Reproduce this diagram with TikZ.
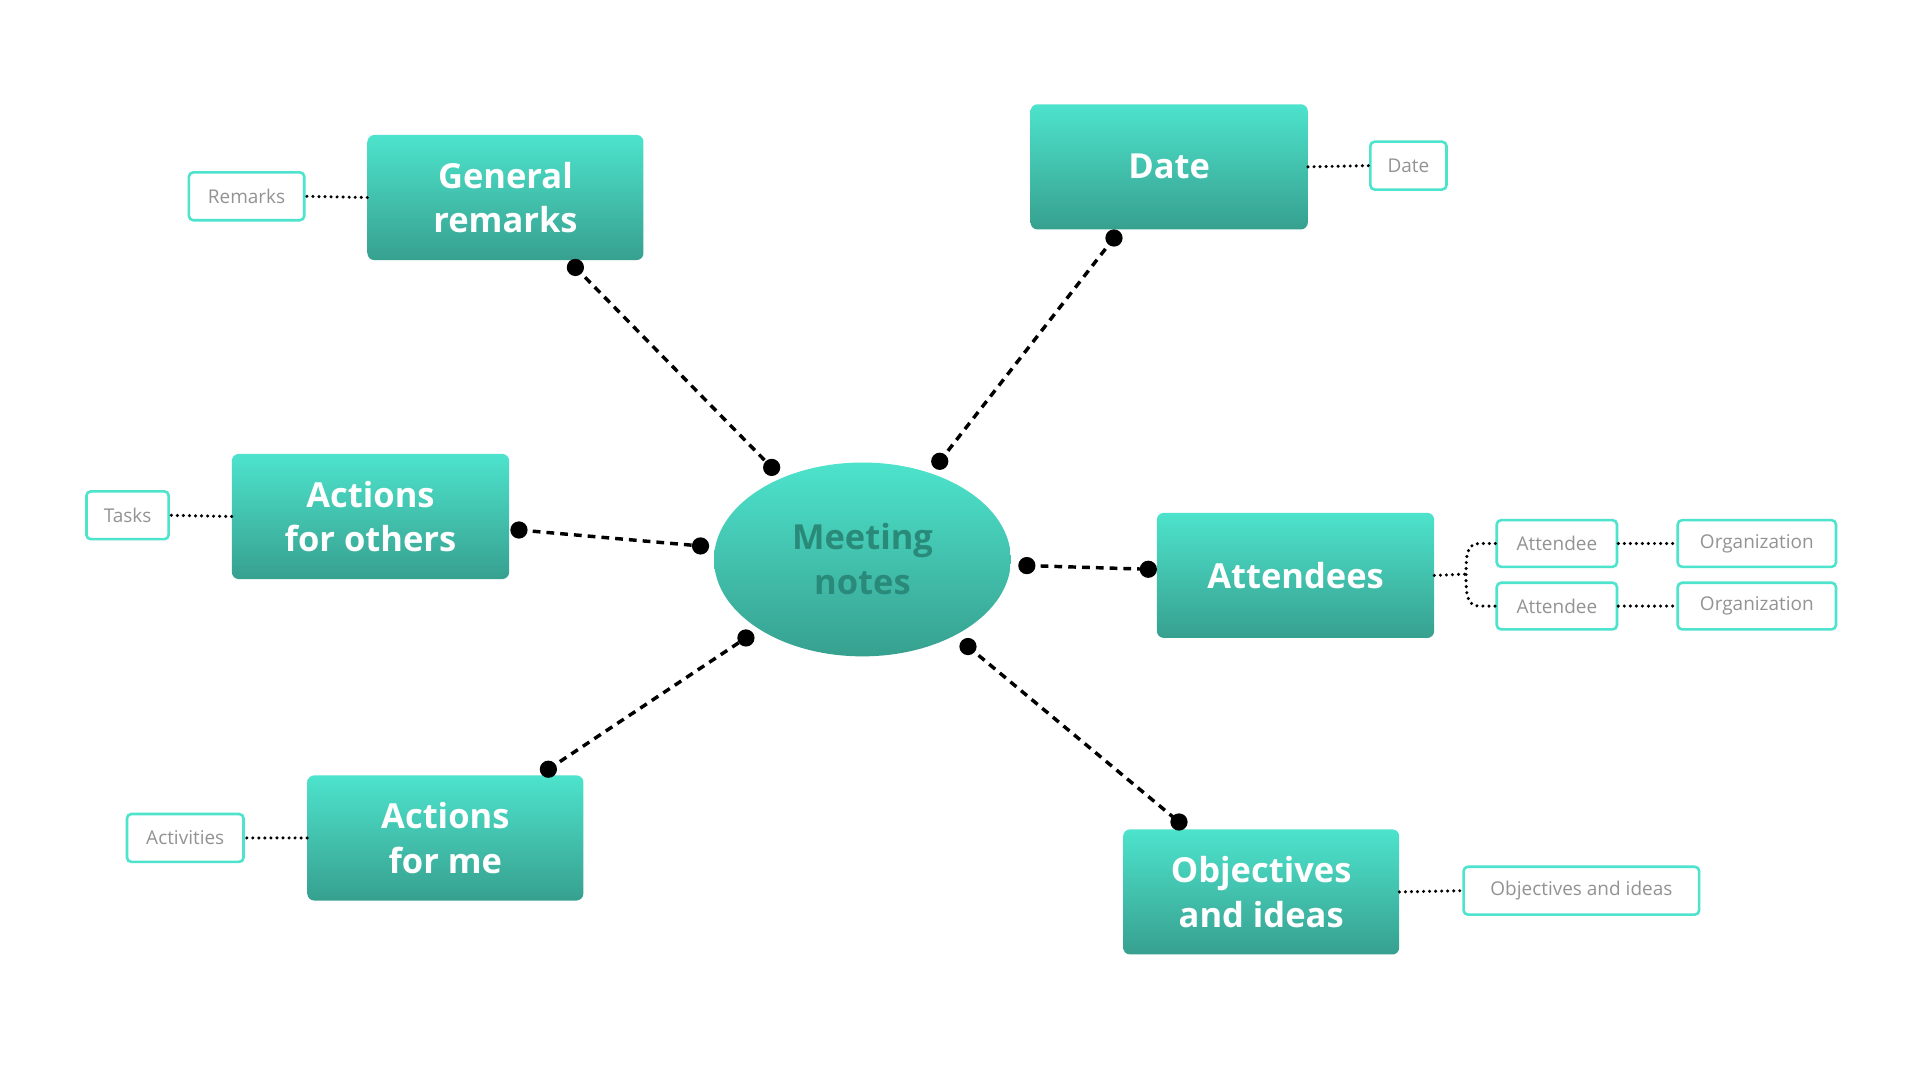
\documentclass[tikz,border=0pt]{standalone}
\usetikzlibrary{shapes.geometric}
\usepackage{fontspec}
\setmainfont{Open Sans}
\begin{document}
\begin{tikzpicture}[x=0.05cm,y=-0.05cm,
 big/.style={rounded corners=8pt,top color=tealtop,bottom color=tealbot,draw=none,text=white,font=\fontsize{40}{52}\selectfont\bfseries,align=center,inner sep=0pt},
 small/.style={draw=boxline,line width=3pt,rounded corners=5pt,text=gray!85,font=\fontsize{22}{26}\selectfont,inner sep=0pt},
 conn/.style={line width=4pt,dash pattern=on 9pt off 7pt},
 dotl/.style={line width=4pt,line cap=round,dash pattern=on 0pt off 7pt},
 pt/.style={fill=black,circle,inner sep=0pt,minimum size=20pt}]
\definecolor{tealtop}{HTML}{4DE3CC}
\definecolor{tealbot}{HTML}{37A08F}
\definecolor{boxline}{HTML}{4DE3CC}
\definecolor{darkteal}{HTML}{2A8A7A}
\useasboundingbox (0,0) rectangle (1565,880);
\fill[white] (0,0) rectangle (1565,880);
% main nodes
\node[big,minimum width=225*0.05cm,minimum height=102*0.05cm] (gr) at (412,161) {General\\remarks};
\node[big,minimum width=226*0.05cm,minimum height=102*0.05cm] (da) at (953,136) {Date};
\node[big,minimum width=226*0.05cm,minimum height=102*0.05cm] (ao) at (302,421) {Actions\\for others};
\node[big,minimum width=226*0.05cm,minimum height=102*0.05cm] (at) at (1056,469) {Attendees};
\node[big,minimum width=225*0.05cm,minimum height=102*0.05cm] (am) at (363,683) {Actions\\for me};
\node[big,minimum width=225*0.05cm,minimum height=102*0.05cm] (ob) at (1028,727) {Objectives\\and ideas};
\node[ellipse,top color=tealtop,bottom color=tealbot,minimum width=242*0.05cm,minimum height=158*0.05cm,text=darkteal,font=\fontsize{40}{52}\selectfont\bfseries,align=center,inner sep=0pt] (mn) at (703,456) {Meeting\\notes};
% small nodes
\node[small,minimum width=94*0.05cm,minimum height=39*0.05cm] (s1) at (201,160) {Remarks};
\node[small,minimum width=62*0.05cm,minimum height=39*0.05cm] (s2) at (1148,135) {Date};
\node[small,minimum width=67*0.05cm,minimum height=39*0.05cm] (s3) at (104,420) {Tasks};
\node[small,minimum width=98*0.05cm,minimum height=38*0.05cm] (a1) at (1269,443) {Attendee};
\node[small,minimum width=98*0.05cm,minimum height=38*0.05cm] (a2) at (1269,494) {Attendee};
\node[small,minimum width=129*0.05cm,minimum height=38*0.05cm] (o1) at (1432,443) {Organization};
\node[small,minimum width=129*0.05cm,minimum height=38*0.05cm] (o2) at (1432,494) {Organization};
\node[small,minimum width=95*0.05cm,minimum height=39*0.05cm] (s4) at (151,683) {Activities};
\node[small,minimum width=192*0.05cm,minimum height=39*0.05cm] (s5) at (1289,726) {Objectives and ideas};
% connector endpoints
\coordinate (c1a) at (469,218); \coordinate (c1b) at (629,381);
\coordinate (c2a) at (908,194); \coordinate (c2b) at (766,376);
\coordinate (c3a) at (423,432); \coordinate (c3b) at (571,445);
\coordinate (c4a) at (837,461); \coordinate (c4b) at (936,464);
\coordinate (c5a) at (447,627); \coordinate (c5b) at (608,520);
\coordinate (c6a) at (789,527); \coordinate (c6b) at (961,670);
\foreach \a/\b in {c1a/c1b,c2a/c2b,c3a/c3b,c4a/c4b,c5a/c5b,c6a/c6b}{
 \draw[conn] (\a) -- (\b);
 \node[pt] at (\a) {}; \node[pt] at (\b) {};}
% dotted links
\draw[dotl] (gr.west) -- (s1.east);
\draw[dotl] (da.east) -- (s2.west);
\draw[dotl] (ao.west) -- (s3.east);
\draw[dotl] (am.west) -- (s4.east);
\draw[dotl] (ob.east) -- (s5.west);
\draw[dotl] (a1.east) -- (o1.west);
\draw[dotl] (a2.east) -- (o2.west);
\coordinate (br) at (1195,468);
\draw[dotl] (at.east) -- (br);
\draw[dotl] (a1.west) -- (1205,443) to[out=180,in=90] (br) to[out=-90,in=180] (1205,494) -- (a2.west);
\end{tikzpicture}
\end{document}
